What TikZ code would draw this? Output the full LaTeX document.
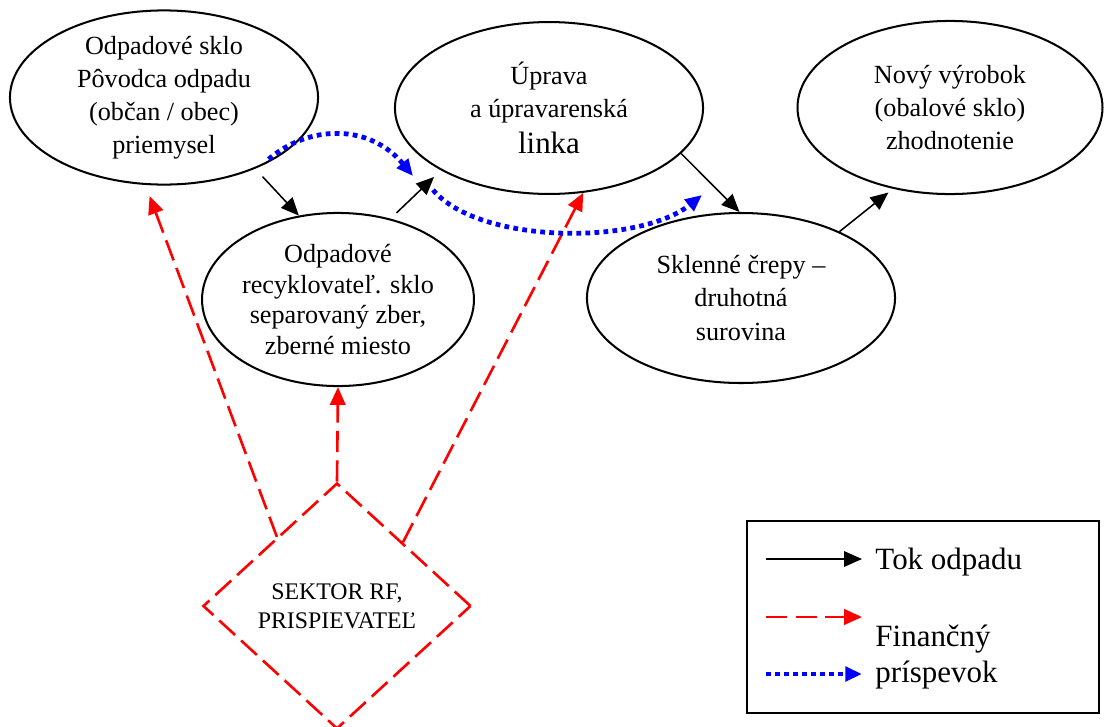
\documentclass[tikz,border=0pt]{standalone}
\usepackage{fontspec}
\setmainfont{Liberation Serif}
\usetikzlibrary{shapes.geometric,arrows.meta}

\begin{document}
\begin{tikzpicture}[x=0.42pt,y=-0.42pt,
  stage/.style={draw,ellipse,line width=0.85pt,inner sep=0pt,align=center,
    font=\fontsize{11}{13.9}\selectfont},
  waste/.style={-{Triangle[length=7.5pt,width=6.5pt]},line width=0.65pt},
  money/.style={-{Triangle[length=7.5pt,width=6.5pt]},flowred,line width=1.1pt,
    dash pattern=on 9pt off 3.4pt},
  bonus/.style={-{Triangle[length=7pt,width=6pt]},flowblue,line width=2pt,
    dash pattern=on 2pt off 1.8pt}]

% Define colors for the flows
\definecolor{flowred}{rgb}{1,0,0}
\definecolor{flowblue}{rgb}{0,0,1}

\useasboundingbox (0,0) rectangle (1104,727);

% Stages of the glass flow
\node[stage, minimum width=129.4pt, minimum height=72.7pt] (origin) at (164,97.5)
  {Odpadové sklo\\Pôvodca odpadu\\(občan / obec)\\priemysel};
\node[stage, minimum width=114.2pt, minimum height=72.7pt,
  font=\fontsize{11}{12.8}\selectfont] (collect) at (338,299.5)
  {Odpadové\\recyklovateľ. sklo\\separovaný zber,\\zberné miesto};
\node[stage, minimum width=129.4pt, minimum height=72.2pt] (treat) at (549,108)
  {Úprava\\a úpravarenská\\[1pt]{\fontsize{13}{15}\selectfont linka}};
\node[stage, minimum width=129.4pt, minimum height=71.4pt] (cullet) at (741,298)
  {Sklenné črepy --\\druhotná\\surovina};
\node[stage, minimum width=128.1pt, minimum height=72.7pt] (product) at (950,107.5)
  {Nový výrobok\\(obalové sklo)\\zhodnotenie};

% Sector paying the contribution
\node[diamond, draw=flowred, line width=1.1pt, dash pattern=on 9pt off 3.4pt,
  minimum width=112.6pt, minimum height=103.3pt, inner sep=0pt, align=center,
  font=\fontsize{10}{12.2}\selectfont] (sector) at (337,606)
  {SEKTOR RF,\\PRISPIEVATEĽ};

% Waste flow
\draw[waste, shorten <=4.5pt] (origin.-38) -- (collect.115);
\draw[waste, shorten <=3.5pt, shorten >=4pt] (collect.57) -- (treat.210);
\draw[waste] (treat.-19) -- (cullet.91);
\draw[waste, shorten >=2.5pt] (cullet.34) -- (product.235);

% Financial contribution
\draw[money, shorten >=5pt] (sector.131) -- (origin.258);
\draw[money] (sector.north) -- (collect.south);
\draw[money] (sector.44) -- (treat.-68);

% Dotted contribution path
\coordinate (b1) at (413,176);
\coordinate (b2) at (433,190);
\coordinate (b3) at (702,195);
\draw[bonus, shorten <=5pt] (origin.-36) .. controls (310,124) and (370,124) .. (b1);
\draw[bonus] (b2) .. controls (480,245) and (640,245) .. (b3);

% Legend
\draw[line width=0.8pt] (747,521) rectangle (1099,713);
\coordinate (k1) at (766,559);
\coordinate (k1e) at (862,559);
\coordinate (k2) at (766,617);
\coordinate (k2e) at (862,617);
\coordinate (k3) at (766,674);
\coordinate (k3e) at (862,674);
\draw[waste] (k1) -- (k1e);
\draw[money] (k2) -- (k2e);
\draw[bonus] (k3) -- (k3e);
\node[anchor=west, inner sep=0pt, font=\fontsize{13}{15.5}\selectfont] (k1t) at (875,562) {Tok odpadu};
\node[anchor=west, inner sep=0pt, align=left, font=\fontsize{13}{15.5}\selectfont] (k2t) at (875,657)
  {Finančný\\príspevok};
\end{tikzpicture}
\end{document}
